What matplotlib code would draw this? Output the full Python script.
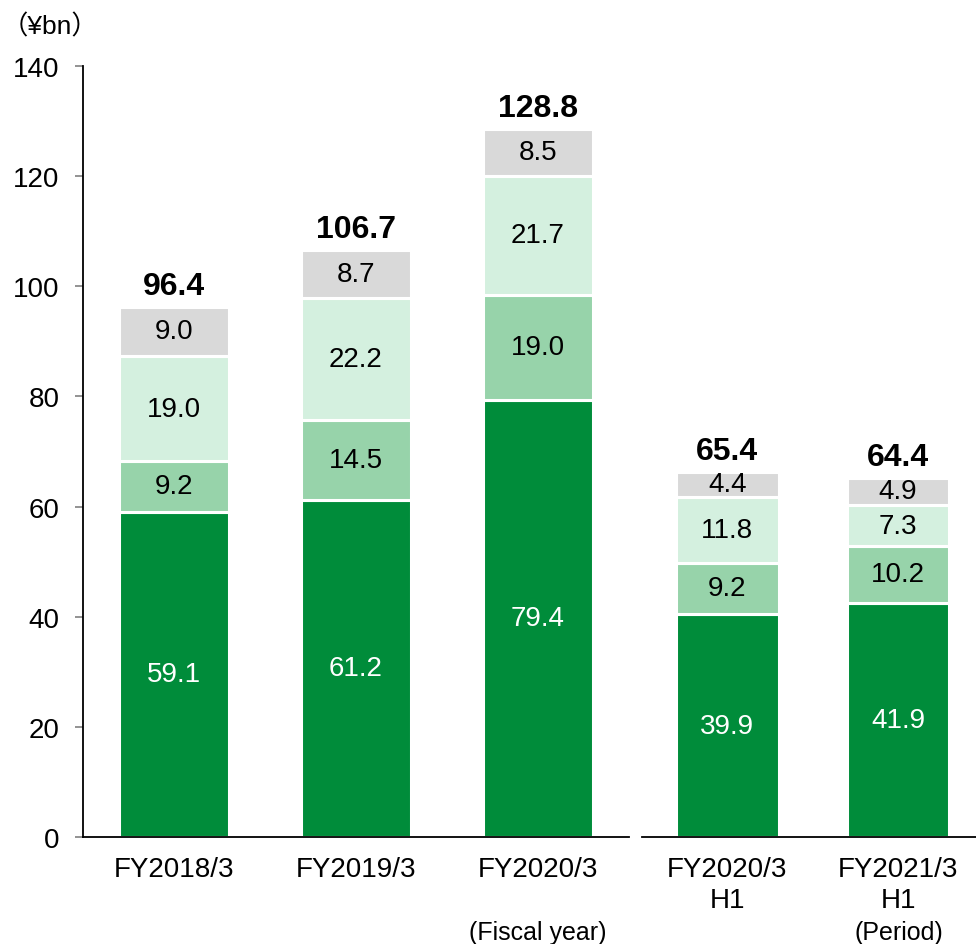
import matplotlib
matplotlib.use("Agg")
import matplotlib.pyplot as plt

plt.rcParams['font.family'] = ['Liberation Sans', 'Noto Sans CJK JP', 'DejaVu Sans']

# ---- data ----
fy_labels = ["FY2018/3", "FY2019/3", "FY2020/3"]
fy_seg1 = [59.1, 61.2, 79.4]
fy_seg2 = [9.2, 14.5, 19.0]
fy_seg3 = [19.0, 22.2, 21.7]
fy_seg4 = [9.0, 8.7, 8.5]
fy_totals = [96.4, 106.7, 128.8]

h1_labels = ["FY2020/3\nH1", "FY2021/3\nH1"]
h1_seg1 = [39.9, 41.9]
h1_seg2 = [9.2, 10.2]
h1_seg3 = [11.8, 7.3]
h1_seg4 = [4.4, 4.9]
h1_totals = [65.4, 64.4]

yticks = [0, 20, 40, 60, 80, 100, 120, 140]

colors = ["#008C3A", "#97D3AA", "#D4F0DF", "#D9D9D9"]
text_colors = ["white", "black", "black", "black"]

W, H = 976, 945
fig = plt.figure(figsize=(W / 100, H / 100), dpi=100)

bottom = 1 - 838 / H
top = 1 - 67 / H
ax1 = fig.add_axes([83 / W, bottom, (629 - 83) / W, top - bottom])
ax2 = fig.add_axes([642 / W, bottom, (976 - 642) / W, top - bottom])


def draw(ax, labels, segs, totals):
    x = list(range(len(labels)))
    base = [0.0] * len(labels)
    for si, seg in enumerate(segs):
        ax.bar(x, seg, width=0.6, bottom=base, color=colors[si],
               edgecolor="white", linewidth=2.2, zorder=2)
        for xi, (b, v) in enumerate(zip(base, seg)):
            ax.text(x[xi], b + v / 2, f"{v:.1f}", ha="center", va="center",
                    fontsize=20, color=text_colors[si], zorder=3)
        base = [b + v for b, v in zip(base, seg)]
    for xi, (b, t) in enumerate(zip(base, totals)):
        ax.annotate(f"{t:.1f}", (x[xi], b), xytext=(0, 15),
                    textcoords="offset points", ha="center", va="center",
                    fontsize=23, fontweight="bold", color="black")
    ax.set_xticks(x)
    ax.set_xticklabels(labels, fontsize=20, linespacing=1.25)
    ax.tick_params(axis="x", length=0, pad=14)
    for s in ["top", "right"]:
        ax.spines[s].set_visible(False)
    ax.spines["bottom"].set_linewidth(1.3)
    ax.spines["left"].set_linewidth(1.3)


draw(ax1, fy_labels, [fy_seg1, fy_seg2, fy_seg3, fy_seg4], fy_totals)
draw(ax2, h1_labels, [h1_seg1, h1_seg2, h1_seg3, h1_seg4], h1_totals)

ax1.set_xlim(-0.5, 2.5)
ax1.set_ylim(0, 140)
ax1.set_yticks(yticks)
ax1.set_yticklabels([str(v) for v in yticks], fontsize=20)
ax1.tick_params(axis="y", length=6, width=1.2, color="#808080", pad=11)

ax2.set_xlim(-0.5, 1.456)
ax2.set_ylim(0, 138)
ax2.spines["left"].set_visible(False)
ax2.set_yticks([])

fig.text(2 / W, 1 - 27 / H, "（¥bn）", fontsize=19, ha="left", va="center")
fig.text(538 / W, 1 - 933 / H, "(Fiscal year)", fontsize=18, ha="center", va="center")
fig.text(899 / W, 1 - 933 / H, "(Period)", fontsize=18, ha="center", va="center")

fig.savefig("out.png", dpi=100)
